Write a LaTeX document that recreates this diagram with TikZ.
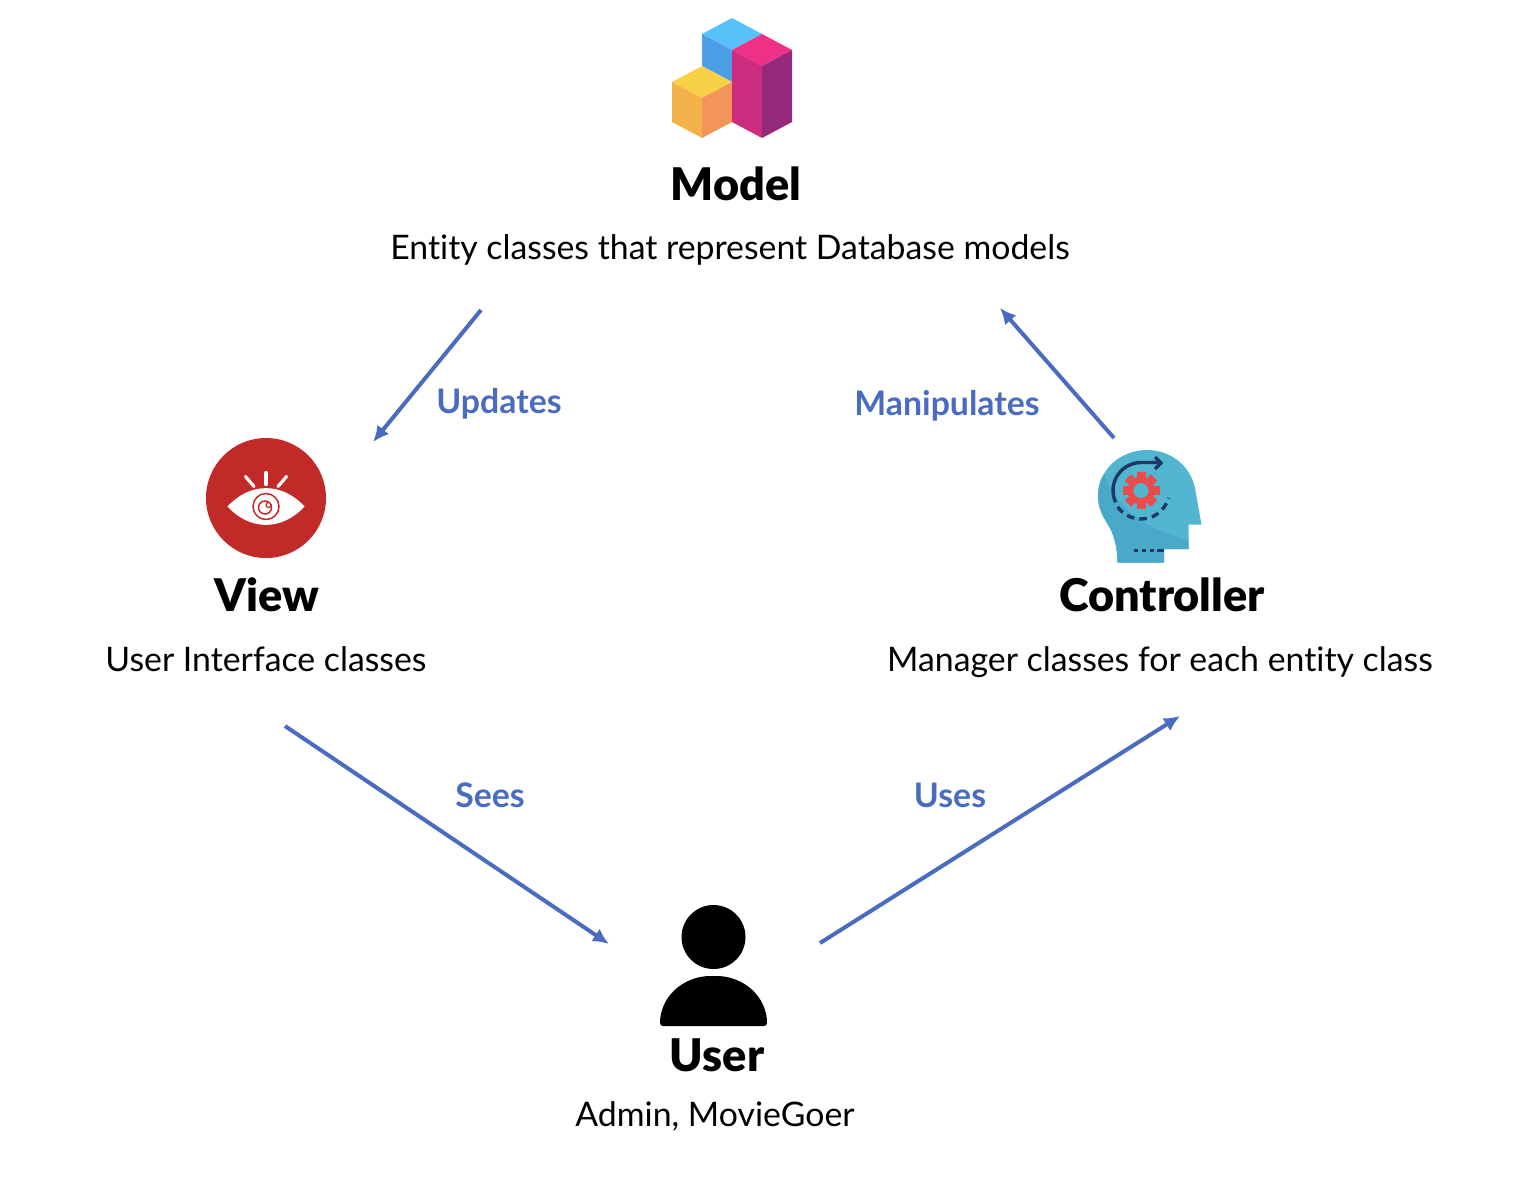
\documentclass[tikz,border=0pt]{standalone}
\usepackage{fontspec}
\setmainfont{Lato}[Ligatures=NoCommon]
\newfontfamily\heavyfont{Lato Black}[Ligatures=NoCommon]
\usetikzlibrary{arrows.meta}
\definecolor{linkblue}{HTML}{4A6CC0}
\definecolor{headblue}{HTML}{53B6D0}
\definecolor{headdark}{HTML}{4AA9C8}
\definecolor{headline}{HTML}{1F3864}
\definecolor{eyered}{HTML}{C12A26}
\definecolor{gearred}{HTML}{E84C4C}
\tikzset{
	title/.style={font=\fontsize{22.5}{26}\selectfont\heavyfont, inner sep=0pt},
	note/.style={font=\fontsize{16.9}{20}\selectfont, inner sep=0pt},
	linklabel/.style={font=\fontsize{16.9}{20}\selectfont\bfseries, text=linkblue, inner sep=0pt},
	link/.style={draw=linkblue, line width=2pt, -{Latex[length=8pt,width=7.5pt]}}
}
\begin{document}
\begin{tikzpicture}[x=0.5pt, y=-0.5pt]
		%%%%% START %%%%%
		\useasboundingbox (0, 0) rectangle (1524, 1190);
		
		% model icon
		\fill[color={rgb,255:red,87;green,193;blue,250}] (732, 18) -- (762, 34) -- (732, 50) -- (702, 34) -- cycle;
		\fill[color={rgb,255:red,74;green,159;blue,230}] (702, 34) -- (732, 50) -- (732, 82) -- (702, 66) -- cycle;
		\fill[color={rgb,255:red,249;green,209;blue,71}] (702, 66) -- (732, 82) -- (702, 98) -- (672, 82) -- cycle;
		\fill[color={rgb,255:red,244;green,178;blue,74}] (672, 82) -- (702, 98) -- (702, 138) -- (672, 122) -- cycle;
		\fill[color={rgb,255:red,243;green,149;blue,88}] (702, 98) -- (732, 82) -- (732, 122) -- (702, 138) -- cycle;
		\fill[color={rgb,255:red,238;green,49;blue,135}] (732, 50) -- (762, 34) -- (792, 50) -- (762, 66) -- cycle;
		\fill[color={rgb,255:red,203;green,44;blue,126}] (732, 50) -- (762, 66) -- (762, 138) -- (732, 122) -- cycle;
		\fill[color={rgb,255:red,149;green,42;blue,124}] (762, 66) -- (792, 50) -- (792, 122) -- (762, 138) -- cycle;
		
		% view icon
		\fill[eyered] (266, 498) circle (60);
		\fill[white] (227.5, 506.5) .. controls (250, 482) and (282, 482) .. (304.5, 506.5) .. controls (282, 531) and (250, 531) .. (227.5, 506.5) -- cycle;
		\draw[white, line width=1.6pt, line cap=round] (245.5, 476.5) -- (254, 486.5);
		\draw[white, line width=1.6pt, line cap=round] (266, 472.5) -- (266, 484.5);
		\draw[white, line width=1.6pt, line cap=round] (286.5, 476.5) -- (278, 486.5);
		\draw[eyered, line width=0.75pt] (266, 506.5) circle (13);
		\draw[eyered, line width=0.75pt] (265, 507.5) circle (6.5);
		\fill[white] (268.5, 505) circle (2.5);
		\draw[eyered, line width=0.6pt] (268.5, 505) circle (2.5);
		
		% controller icon
		\fill[headblue] (1117.5, 562.5) -- (1164, 562.5) -- (1164, 549) -- (1188.5, 549) -- (1188.5, 524.5) -- (1201.5, 524.5) -- (1195, 488)
			.. controls (1190, 465) and (1170, 450) .. (1147, 450)
			.. controls (1120, 450) and (1098, 470) .. (1098, 496)
			.. controls (1098, 510) and (1104, 518) .. (1110, 528)
			.. controls (1115, 538) and (1117.5, 550) .. (1117.5, 562.5) -- cycle;
		\fill[headdark] (1117.5, 562.5) -- (1164, 562.5) -- (1164, 549) -- (1188.5, 549) -- (1188.5, 541)
			.. controls (1150, 530) and (1115, 510) .. (1104, 474)
			.. controls (1100, 480) and (1098, 488) .. (1098, 496)
			.. controls (1098, 510) and (1104, 518) .. (1110, 528)
			.. controls (1115, 538) and (1117.5, 550) .. (1117.5, 562.5) -- cycle;
		\foreach \tooth in {0, 45, ..., 315} {
			\fill[gearred, rotate around={\tooth:(1141, 490.5)}] (1136.5, 472) rectangle (1145.5, 482);
		}
		\fill[gearred] (1141, 490.5) circle (13.5);
		\fill[headblue] (1141, 490.5) circle (7.5);
		\draw[headline, line width=1.7pt] (1141, 490.5) ++(155:28) arc (155:270:28) -- (1161, 462.5);
		\draw[headline, line width=1.7pt] (1155, 457) -- (1161, 463) -- (1155, 469);
		\draw[headline, line width=1.7pt, dash pattern=on 3.8pt off 2.6pt] (1141, 490.5) ++(145:28.5) arc (145:15:28.5);
		\draw[headline, line width=1.7pt, dash pattern=on 1.9pt off 2.1pt] (1134, 550.5) -- (1156, 550.5);
		\draw[headline, line width=1.7pt] (1157, 550.5) -- (1164, 550.5);
		
		% user icon
		\fill[black] (713.5, 937) circle (32);
		\fill[black, rounded corners=1.5pt] (660, 1026) .. controls (660, 997) and (683, 976) .. (713.5, 976) .. controls (744, 976) and (767, 997) .. (767, 1026) -- cycle;
		
		\node[title] (model) at (736, 184) {Model};
		\node[note] (modelnote) at (730, 250) {Entity classes that represent Database models};
		\node[title] (view) at (267, 595) {View};
		\node[note] (viewnote) at (266, 659) {User Interface classes};
		\node[title] (controller) at (1162, 595) {Controller};
		\node[note] (controllernote) at (1160, 662) {Manager classes for each entity class};
		\node[title] (user) at (717, 1055) {User};
		\node[note] (usernote) at (715, 1116) {Admin, MovieGoer};
		
		\coordinate (updatesfrom) at (481, 310);
		\coordinate (updatesto) at (373, 442);
		\coordinate (manipfrom) at (1114, 438);
		\coordinate (manipto) at (1000, 308);
		\coordinate (seesfrom) at (285, 726);
		\coordinate (seesto) at (609, 944);
		\coordinate (usesfrom) at (820, 943);
		\coordinate (usesto) at (1180, 716);
		
		\draw[link] (updatesfrom) -- (updatesto);
		\draw[link] (manipfrom) -- (manipto);
		\draw[link] (seesfrom) -- (seesto);
		\draw[link] (usesfrom) -- (usesto);
		
		\node[linklabel] (updates) at (499, 404) {Updates};
		\node[linklabel] (manipulates) at (947, 406) {Manipulates};
		\node[linklabel] (sees) at (490, 795) {Sees};
		\node[linklabel] (uses) at (950, 795) {Uses};
		%%%%% END %%%%%
	\end{tikzpicture}
\end{document}
